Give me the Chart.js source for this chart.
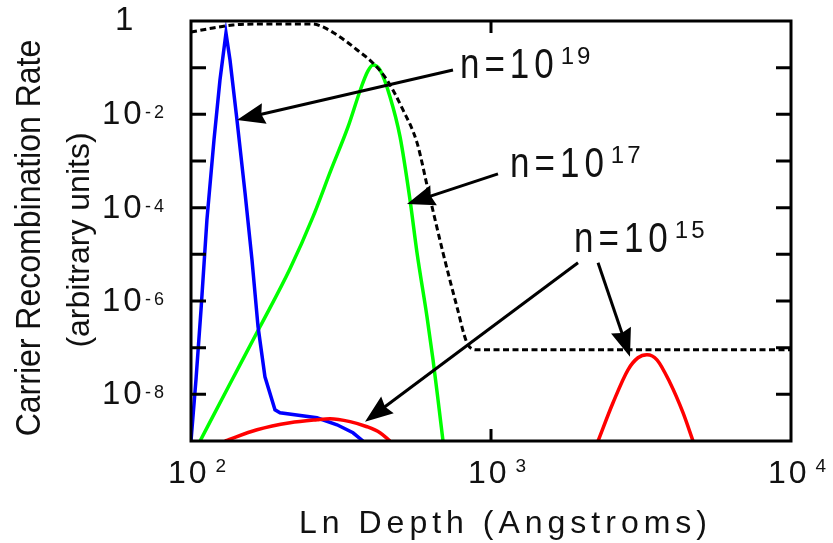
<!DOCTYPE html>
<html>
<head>
<meta charset="utf-8">
<script src="https://cdn.jsdelivr.net/npm/chart.js@4/dist/chart.umd.min.js"></script>
<style>
  html, body { margin: 0; padding: 0; background: #ffffff; }
  #wrap { width: 833px; height: 543px; }
</style>
</head>
<body>
<div id="wrap"><canvas id="c" width="833" height="543"></canvas></div>
<script>
// ---------- data (depth in Angstroms, rate in arbitrary units) ----------
const profileDepth = [100, 118.4, 138.0, 170, 255, 275.4, 307, 331, 358, 404, 450, 509, 567, 617, 692, 770, 832, 898, 10000];
const profileRate  = [0.58, 0.708, 0.821, 0.86, 0.86, 0.744, 0.50, 0.355, 0.239, 0.126, 0.0545, 0.0124, 2.44e-3, 2.4e-4, 1.08e-5, 7.5e-7, 1.27e-7, 9.0e-8, 9.0e-8];

const blueDepth = [100, 103.9, 108.0, 113.0, 119.3, 124.9, 130.8, 134.9, 142.3, 151.4, 159.7, 167.3, 176.4, 190.5, 198.0, 263.0, 306.7, 346.7, 374.5];
const blueRate  = [1e-9, 2.06e-8, 6.5e-7, 5.5e-5, 2.83e-3, 0.0545, 0.553, 0.146, 7.6e-3, 2.07e-4, 7.6e-6, 2.8e-7, 2.38e-8, 4.68e-9, 4.04e-9, 3.15e-9, 2.23e-9, 1.5e-9, 1e-9];

const greenDepth = [107.2, 134.9, 169.8, 213.8, 255.0, 292.9, 333.7, 368.7, 389.0, 404.3, 426.6, 460.8, 497.6, 537.0, 566.7, 611.8, 640.8, 665.8, 691.8];
const greenRate  = [1e-9, 1.69e-8, 2.8e-7, 4.9e-6, 6.35e-5, 6.45e-4, 5.37e-3, 0.0367, 0.085, 0.114, 0.0893, 0.0236, 3.28e-3, 1.47e-4, 1.08e-5, 4.6e-7, 5.5e-8, 7.7e-9, 1e-9];

const redNearDepth = [129.8, 166.0, 213.8, 263.0, 290.6, 338.8, 386.1, 426.6, 460.8];
const redNearRate  = [1e-9, 1.74e-9, 2.46e-9, 2.86e-9, 3.0e-9, 2.6e-9, 2.02e-9, 1.5e-9, 1e-9];

const redDeepDepth = [2274, 2551, 2862, 3090, 3311, 3575, 3951, 4365, 4714];
const redDeepRate  = [1e-9, 6.6e-9, 3.36e-8, 6.08e-8, 7.05e-8, 5.5e-8, 1.77e-8, 4.04e-9, 1e-9];

// ---------- axis ticks & labels ----------
const xTickValues = [100, 1000, 10000];
const xTickBase   = ['10', '10', '10'];
const xTickExp    = ['2', '3', '4'];
const xInnerTicks = [1000];
const yTickValues = [1, 1e-2, 1e-4, 1e-6, 1e-8];
const yTickBase   = ['1', '10', '10', '10', '10'];
const yTickExp    = ['', '-2', '-4', '-6', '-8'];
const yInnerTicks = [1e-1, 1e-2, 1e-3, 1e-4, 1e-5, 1e-6, 1e-7, 1e-8];
const xTitle  = 'Ln Depth (Angstroms)';
const yTitle1 = 'Carrier Recombination Rate';
const yTitle2 = '(arbitrary units)';

// ---------- annotations (data coordinates) ----------
const noteBase  = ['n=10', 'n=10', 'n=10'];
const noteExp   = ['19', '17', '15'];
const noteDepth = [800, 1175, 1920];
const noteRate  = [0.0602, 4.57e-4, 1.13e-5];
const arrowFromDepth = [747, 1055, 1950, 2274];
const arrowFromRate  = [0.0893, 5.3e-4, 6.6e-6, 6.6e-6];
const arrowToDepth   = [142.3, 524.8, 380.2, 2906];
const arrowToRate    = [7.6e-3, 1.2e-4, 2.6e-9, 6.4e-8];

function pts(xs, ys) { return xs.map((v, i) => ({ x: v, y: ys[i] })); }

const FONT = '"Liberation Sans", Arial, Helvetica, sans-serif';
const INK = '#111111';

function spaced(ctx, text, x, y, sp) {
  for (const ch of text) {
    ctx.fillText(ch, x, y);
    x += ctx.measureText(ch).width + sp;
  }
  return x;
}
function spacedWidth(ctx, text, sp) {
  let w = 0;
  for (const ch of text) w += ctx.measureText(ch).width + sp;
  return w - sp;
}

function drawArrow(ctx, x1, y1, x2, y2) {
  const ang = Math.atan2(y2 - y1, x2 - x1);
  const L = 28, H = 10.5;
  const bx = x2 - L * Math.cos(ang), by = y2 - L * Math.sin(ang);
  ctx.beginPath();
  ctx.moveTo(x1, y1);
  ctx.lineTo(bx + 4 * Math.cos(ang), by + 4 * Math.sin(ang));
  ctx.lineWidth = 3;
  ctx.strokeStyle = '#000';
  ctx.stroke();
  ctx.beginPath();
  ctx.moveTo(x2, y2);
  ctx.lineTo(bx + H * Math.sin(ang), by - H * Math.cos(ang));
  ctx.lineTo(bx + 3 * Math.cos(ang), by + 3 * Math.sin(ang));
  ctx.lineTo(bx - H * Math.sin(ang), by + H * Math.cos(ang));
  ctx.closePath();
  ctx.fillStyle = '#000';
  ctx.fill();
}

const decor = {
  id: 'decor',
  afterDraw(chart) {
    const { ctx, chartArea: a } = chart;
    const xs = chart.scales.x, ys = chart.scales.y;
    ctx.save();
    // frame
    ctx.strokeStyle = '#000';
    ctx.lineWidth = 3;
    ctx.strokeRect(a.left, a.top, a.right - a.left, a.bottom - a.top);
    // inner ticks
    ctx.beginPath();
    yInnerTicks.forEach(v => {
      const py = ys.getPixelForValue(v);
      ctx.moveTo(a.left, py); ctx.lineTo(a.left + 15, py);
      ctx.moveTo(a.right, py); ctx.lineTo(a.right - 15, py);
    });
    xInnerTicks.forEach(v => {
      const px = xs.getPixelForValue(v);
      ctx.moveTo(px, a.bottom); ctx.lineTo(px, a.bottom - 12);
      ctx.moveTo(px, a.top); ctx.lineTo(px, a.top + 12);
    });
    ctx.stroke();

    ctx.fillStyle = INK;
    ctx.textBaseline = 'alphabetic';
    ctx.textAlign = 'left';
    // y tick labels
    yTickValues.forEach((v, i) => {
      const py = ys.getPixelForValue(v);
      ctx.font = '33px ' + FONT;
      if (!yTickExp[i]) {
        ctx.fillText(yTickBase[i], a.left - 76, py + 9);
      } else {
        spaced(ctx, yTickBase[i], a.left - 89, py + 10, 3);
        ctx.font = '18px ' + FONT;
        spaced(ctx, yTickExp[i], a.left - 46, py + 4, 3);
      }
    });
    // x tick labels
    xTickValues.forEach((v, i) => {
      const px = xs.getPixelForValue(v);
      ctx.font = '32px ' + FONT;
      const end = spaced(ctx, xTickBase[i], px - 23, a.bottom + 42, 3);
      ctx.font = '19px ' + FONT;
      spaced(ctx, xTickExp[i], end + 6, a.bottom + 31, 2);
    });
    // x title
    ctx.font = '32px ' + FONT;
    const tw = spacedWidth(ctx, xTitle, 5);
    spaced(ctx, xTitle, 503 - tw / 2, a.bottom + 92, 5);
    // y titles
    ctx.textAlign = 'center';
    ctx.save();
    ctx.translate(40, 238);
    ctx.rotate(-Math.PI / 2);
    ctx.scale(1, 1.08);
    ctx.font = '32px ' + FONT;
    ctx.fillText(yTitle1, 0, 0);
    ctx.restore();
    ctx.save();
    ctx.translate(89, 240);
    ctx.rotate(-Math.PI / 2);
    ctx.font = '32px ' + FONT;
    ctx.fillText(yTitle2, 0, 0);
    ctx.restore();
    ctx.textAlign = 'left';

    // arrows
    arrowFromDepth.forEach((d, i) => {
      drawArrow(ctx,
        xs.getPixelForValue(d), ys.getPixelForValue(arrowFromRate[i]),
        xs.getPixelForValue(arrowToDepth[i]), ys.getPixelForValue(arrowToRate[i]));
    });
    // annotation texts (slightly tall glyphs, wide spacing)
    ctx.fillStyle = INK;
    noteBase.forEach((t, i) => {
      const px = xs.getPixelForValue(noteDepth[i]);
      const py = ys.getPixelForValue(noteRate[i]);
      ctx.save();
      ctx.translate(px - 2, py);
      ctx.scale(1, 1.22);
      ctx.font = '35px ' + FONT;
      const end = spaced(ctx, t, 0, 0, 5);
      ctx.restore();
      ctx.font = '24px ' + FONT;
      spaced(ctx, noteExp[i], px - 2 + end + 2, py - 14, 3);
    });
    ctx.restore();
  }
};

const common = { showLine: true, pointRadius: 0, pointHoverRadius: 0, borderWidth: 3.5, fill: false };

new Chart(document.getElementById('c'), {
  type: 'scatter',
  data: {
    datasets: [
      Object.assign({}, common, { label: 'profile', data: pts(profileDepth, profileRate), borderColor: '#000000', borderWidth: 3, borderDash: [6, 3.5], cubicInterpolationMode: 'monotone' }),
      Object.assign({}, common, { label: 'n=10^15 (near)', data: pts(redNearDepth, redNearRate), borderColor: '#ff0000', cubicInterpolationMode: 'monotone' }),
      Object.assign({}, common, { label: 'n=10^15 (deep)', data: pts(redDeepDepth, redDeepRate), borderColor: '#ff0000', cubicInterpolationMode: 'monotone' }),
      Object.assign({}, common, { label: 'n=10^19', data: pts(blueDepth, blueRate), borderColor: '#0000ff', tension: 0 }),
      Object.assign({}, common, { label: 'n=10^17', data: pts(greenDepth, greenRate), borderColor: '#00ff00', cubicInterpolationMode: 'monotone' })
    ]
  },
  options: {
    responsive: false,
    animation: false,
    events: [],
    layout: { padding: { left: 191, right: 42, top: 21, bottom: 102 } },
    plugins: { legend: { display: false }, tooltip: { enabled: false } },
    scales: {
      x: { type: 'logarithmic', min: 100, max: 10000, display: false },
      y: { type: 'logarithmic', min: 1e-9, max: 1, display: false }
    }
  },
  plugins: [decor]
});
</script>
</body>
</html>
